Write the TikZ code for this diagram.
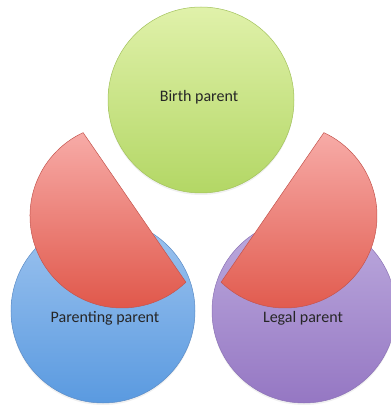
\documentclass[tikz,border=0pt]{standalone}
\usepackage{fontspec}
\setmainfont{Carlito}
\usepackage{tikz}
\usetikzlibrary{shadows}
\usepackage{xcolor}
\definecolor{birthtop}{HTML}{E0F1AA}
\definecolor{birthbot}{HTML}{B3D765}
\definecolor{birthline}{HTML}{A2C25C}
\definecolor{parenttop}{HTML}{9EC4EF}
\definecolor{parentbot}{HTML}{5A9AE0}
\definecolor{parentline}{HTML}{5C8CC6}
\definecolor{legaltop}{HTML}{BDABDE}
\definecolor{legalbot}{HTML}{9577C3}
\definecolor{legalline}{HTML}{8C73B6}
\definecolor{cuttop}{HTML}{F7ABA7}
\definecolor{cutbot}{HTML}{E0574A}
\definecolor{cutline}{HTML}{C4544D}
\tikzset{
  disc/.style={circle, minimum size=184pt, inner sep=0pt, line width=0.5pt,
    drop shadow={opacity=0.12, shadow xshift=0pt, shadow yshift=-2pt}},
  cut/.style={draw=cutline, line width=0.5pt, top color=cuttop, bottom color=cutbot},
  lbl/.style={font=\fontsize{16}{19}\selectfont, text=black!85}
}

\begin{document}
\begin{tikzpicture}[x=1pt, y=1pt]
\useasboundingbox (0,0) rectangle (391,405);
% the three parents
\node [disc, minimum size=186pt, draw=birthline, top color=birthtop, bottom color=birthbot] (birth) at (201,305) {};
\node [disc, draw=parentline, top color=parenttop, bottom color=parentbot] (parenting) at (103,94) {};
\node [disc, draw=legalline, top color=legaltop, bottom color=legalbot] (legal) at (304,94) {};
% red cut discs
\coordinate (leftcut) at (122,189);
\coordinate (rightcut) at (285,189);
\draw [cut] (leftcut) ++(115:92) arc [start angle=115, end angle=314, radius=92] -- cycle;
\draw [cut] (rightcut) ++(226:92) arc [start angle=226, end angle=425, radius=92] -- cycle;
% labels
\node [lbl] (birthlbl) at (199,308) {Birth parent};
\node [lbl] (parentinglbl) at (105,87) {Parenting parent};
\node [lbl] (legallbl) at (303,87) {Legal parent};
\end{tikzpicture}
\end{document}
